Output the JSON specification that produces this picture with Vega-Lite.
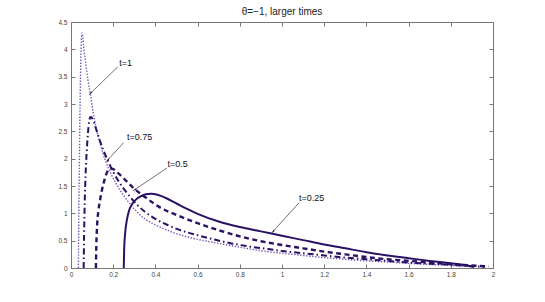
{
  "$schema": "https://vega.github.io/schema/vega-lite/v6.json",
  "width": 422,
  "height": 246,
  "autosize": {"type": "none"},
  "padding": {"left": 71, "top": 22, "right": 52, "bottom": 34},
  "background": "white",
  "title": {"text": "θ=−1, larger times", "fontSize": 10, "font": "Liberation Sans", "fontWeight": "normal", "color": "#222222", "offset": 6, "baseline": "alphabetic", "anchor": "middle", "frame": "group", "dy": 12},
  "config": {
    "view": {"stroke": "#777777", "strokeWidth": 1},
    "axis": {"domain": false, "grid": false, "tickColor": "#777777", "tickSize": -4, "labelFont": "Liberation Sans", "labelFontSize": 6.5, "labelColor": "#444444", "title": null, "labelFlush": false, "labelOverlap": false, "minExtent": 0, "maxExtent": 0}
  },
  "datasets": {
    "curves": [
      {"t": "t=0.25", "x": 0.25, "y": 0}, {"t": "t=0.25", "x": 0.252, "y": 0.35}, {"t": "t=0.25", "x": 0.257, "y": 0.65}, {"t": "t=0.25", "x": 0.265, "y": 0.88}, {"t": "t=0.25", "x": 0.276, "y": 1.06}, {"t": "t=0.25", "x": 0.29, "y": 1.17}, {"t": "t=0.25", "x": 0.31, "y": 1.26}, {"t": "t=0.25", "x": 0.33, "y": 1.31}, {"t": "t=0.25", "x": 0.355, "y": 1.35}, {"t": "t=0.25", "x": 0.38, "y": 1.36}, {"t": "t=0.25", "x": 0.41, "y": 1.34}, {"t": "t=0.25", "x": 0.45, "y": 1.28}, {"t": "t=0.25", "x": 0.5, "y": 1.18}, {"t": "t=0.25", "x": 0.55, "y": 1.08}, {"t": "t=0.25", "x": 0.6, "y": 0.99}, {"t": "t=0.25", "x": 0.7, "y": 0.85}, {"t": "t=0.25", "x": 0.8, "y": 0.75}, {"t": "t=0.25", "x": 0.9, "y": 0.67}, {"t": "t=0.25", "x": 1.0, "y": 0.59}, {"t": "t=0.25", "x": 1.1, "y": 0.51}, {"t": "t=0.25", "x": 1.2, "y": 0.43}, {"t": "t=0.25", "x": 1.3, "y": 0.36}, {"t": "t=0.25", "x": 1.4, "y": 0.29}, {"t": "t=0.25", "x": 1.5, "y": 0.23}, {"t": "t=0.25", "x": 1.6, "y": 0.18}, {"t": "t=0.25", "x": 1.7, "y": 0.13}, {"t": "t=0.25", "x": 1.8, "y": 0.085}, {"t": "t=0.25", "x": 1.87, "y": 0.05}, {"t": "t=0.25", "x": 1.91, "y": 0.02},
      {"t": "t=0.5", "x": 0.118, "y": 0}, {"t": "t=0.5", "x": 0.12, "y": 0.4}, {"t": "t=0.5", "x": 0.124, "y": 0.8}, {"t": "t=0.5", "x": 0.13, "y": 1.05}, {"t": "t=0.5", "x": 0.138, "y": 1.25}, {"t": "t=0.5", "x": 0.148, "y": 1.45}, {"t": "t=0.5", "x": 0.16, "y": 1.63}, {"t": "t=0.5", "x": 0.172, "y": 1.76}, {"t": "t=0.5", "x": 0.185, "y": 1.82}, {"t": "t=0.5", "x": 0.2, "y": 1.81}, {"t": "t=0.5", "x": 0.225, "y": 1.73}, {"t": "t=0.5", "x": 0.26, "y": 1.6}, {"t": "t=0.5", "x": 0.3, "y": 1.45}, {"t": "t=0.5", "x": 0.35, "y": 1.3}, {"t": "t=0.5", "x": 0.43, "y": 1.09}, {"t": "t=0.5", "x": 0.5, "y": 0.97}, {"t": "t=0.5", "x": 0.6, "y": 0.82}, {"t": "t=0.5", "x": 0.7, "y": 0.69}, {"t": "t=0.5", "x": 0.8, "y": 0.58}, {"t": "t=0.5", "x": 0.9, "y": 0.49}, {"t": "t=0.5", "x": 1.0, "y": 0.42}, {"t": "t=0.5", "x": 1.1, "y": 0.36}, {"t": "t=0.5", "x": 1.2, "y": 0.3}, {"t": "t=0.5", "x": 1.3, "y": 0.25}, {"t": "t=0.5", "x": 1.4, "y": 0.2}, {"t": "t=0.5", "x": 1.5, "y": 0.16}, {"t": "t=0.5", "x": 1.6, "y": 0.13}, {"t": "t=0.5", "x": 1.7, "y": 0.1}, {"t": "t=0.5", "x": 1.8, "y": 0.07}, {"t": "t=0.5", "x": 1.9, "y": 0.045}, {"t": "t=0.5", "x": 1.98, "y": 0.03},
      {"t": "t=0.75", "x": 0.06, "y": 0}, {"t": "t=0.75", "x": 0.062, "y": 0.6}, {"t": "t=0.75", "x": 0.065, "y": 1.2}, {"t": "t=0.75", "x": 0.069, "y": 1.7}, {"t": "t=0.75", "x": 0.074, "y": 2.1}, {"t": "t=0.75", "x": 0.08, "y": 2.45}, {"t": "t=0.75", "x": 0.086, "y": 2.68}, {"t": "t=0.75", "x": 0.092, "y": 2.76}, {"t": "t=0.75", "x": 0.1, "y": 2.74}, {"t": "t=0.75", "x": 0.11, "y": 2.65}, {"t": "t=0.75", "x": 0.12, "y": 2.53}, {"t": "t=0.75", "x": 0.135, "y": 2.35}, {"t": "t=0.75", "x": 0.155, "y": 2.14}, {"t": "t=0.75", "x": 0.175, "y": 1.96}, {"t": "t=0.75", "x": 0.2, "y": 1.76}, {"t": "t=0.75", "x": 0.23, "y": 1.56}, {"t": "t=0.75", "x": 0.27, "y": 1.35}, {"t": "t=0.75", "x": 0.31, "y": 1.17}, {"t": "t=0.75", "x": 0.35, "y": 1.03}, {"t": "t=0.75", "x": 0.4, "y": 0.9}, {"t": "t=0.75", "x": 0.45, "y": 0.8}, {"t": "t=0.75", "x": 0.52, "y": 0.69}, {"t": "t=0.75", "x": 0.6, "y": 0.6}, {"t": "t=0.75", "x": 0.68, "y": 0.52}, {"t": "t=0.75", "x": 0.76, "y": 0.45}, {"t": "t=0.75", "x": 0.85, "y": 0.39}, {"t": "t=0.75", "x": 0.93, "y": 0.35}, {"t": "t=0.75", "x": 1.0, "y": 0.31}, {"t": "t=0.75", "x": 1.1, "y": 0.27}, {"t": "t=0.75", "x": 1.2, "y": 0.23}, {"t": "t=0.75", "x": 1.3, "y": 0.19}, {"t": "t=0.75", "x": 1.4, "y": 0.16}, {"t": "t=0.75", "x": 1.5, "y": 0.13}, {"t": "t=0.75", "x": 1.6, "y": 0.1}, {"t": "t=0.75", "x": 1.7, "y": 0.08}, {"t": "t=0.75", "x": 1.8, "y": 0.06}, {"t": "t=0.75", "x": 1.9, "y": 0.035}, {"t": "t=0.75", "x": 1.96, "y": 0.02},
      {"t": "t=1", "x": 0.035, "y": 0}, {"t": "t=1", "x": 0.037, "y": 1}, {"t": "t=1", "x": 0.04, "y": 2}, {"t": "t=1", "x": 0.043, "y": 3}, {"t": "t=1", "x": 0.046, "y": 3.7}, {"t": "t=1", "x": 0.049, "y": 4.15}, {"t": "t=1", "x": 0.052, "y": 4.3}, {"t": "t=1", "x": 0.056, "y": 4.22}, {"t": "t=1", "x": 0.06, "y": 4.05}, {"t": "t=1", "x": 0.07, "y": 3.75}, {"t": "t=1", "x": 0.08, "y": 3.45}, {"t": "t=1", "x": 0.093, "y": 3.15}, {"t": "t=1", "x": 0.105, "y": 2.85}, {"t": "t=1", "x": 0.12, "y": 2.55}, {"t": "t=1", "x": 0.14, "y": 2.25}, {"t": "t=1", "x": 0.16, "y": 2.0}, {"t": "t=1", "x": 0.19, "y": 1.72}, {"t": "t=1", "x": 0.23, "y": 1.44}, {"t": "t=1", "x": 0.27, "y": 1.22}, {"t": "t=1", "x": 0.31, "y": 1.04}, {"t": "t=1", "x": 0.35, "y": 0.9}, {"t": "t=1", "x": 0.4, "y": 0.79}, {"t": "t=1", "x": 0.47, "y": 0.67}, {"t": "t=1", "x": 0.55, "y": 0.57}, {"t": "t=1", "x": 0.63, "y": 0.5}, {"t": "t=1", "x": 0.7, "y": 0.45}, {"t": "t=1", "x": 0.8, "y": 0.38}, {"t": "t=1", "x": 0.93, "y": 0.3}, {"t": "t=1", "x": 1.0, "y": 0.27}, {"t": "t=1", "x": 1.1, "y": 0.23}, {"t": "t=1", "x": 1.2, "y": 0.19}, {"t": "t=1", "x": 1.3, "y": 0.16}, {"t": "t=1", "x": 1.4, "y": 0.13}, {"t": "t=1", "x": 1.5, "y": 0.11}, {"t": "t=1", "x": 1.6, "y": 0.085}, {"t": "t=1", "x": 1.7, "y": 0.065}, {"t": "t=1", "x": 1.8, "y": 0.045}, {"t": "t=1", "x": 1.9, "y": 0.025}
    ],
    "notes": [
      {"label": "t=1", "tx": 0.229, "ty": 3.75, "ax": 0.222, "ay": 3.68, "bx": 0.0935, "by": 3.2},
      {"label": "t=0.75", "tx": 0.265, "ty": 2.39, "ax": 0.249, "ay": 2.29, "bx": 0.175, "by": 1.98},
      {"label": "t=0.5", "tx": 0.457, "ty": 1.9, "ax": 0.455, "ay": 1.83, "bx": 0.301, "by": 1.43},
      {"label": "t=0.25", "tx": 1.081, "ty": 1.28, "ax": 1.08, "ay": 1.19, "bx": 0.958, "by": 0.67}
    ]
  },
  "layer": [
    {
      "data": {"name": "curves"},
      "transform": [{"filter": "datum.t === 't=1'"}],
      "mark": {"type": "line", "interpolate": "monotone", "color": "#7458b4", "strokeWidth": 1.4, "strokeDash": [1.4, 1.6], "strokeCap": "butt"},
      "encoding": {
        "x": {"field": "x", "type": "quantitative", "scale": {"domain": [0, 2], "nice": false, "zero": false}, "axis": {"orient": "bottom", "values": [0, 0.2, 0.4, 0.6, 0.8, 1, 1.2, 1.4, 1.6, 1.8, 2], "format": "~g", "labelPadding": 7}},
        "y": {"field": "y", "type": "quantitative", "scale": {"domain": [0, 4.5], "nice": false}, "axis": {"orient": "left", "values": [0, 0.5, 1, 1.5, 2, 2.5, 3, 3.5, 4, 4.5], "format": "~g", "labelPadding": 8}}
      }
    },
    {
      "data": {"name": "curves"},
      "transform": [{"filter": "datum.t === 't=0.75'"}],
      "mark": {"type": "line", "interpolate": "monotone", "color": "#2b1166", "strokeWidth": 2, "strokeDash": [6, 3, 1.5, 3], "strokeCap": "butt"},
      "encoding": {
        "x": {"field": "x", "type": "quantitative", "scale": {"domain": [0, 2], "nice": false, "zero": false}, "axis": null},
        "y": {"field": "y", "type": "quantitative", "scale": {"domain": [0, 4.5], "nice": false}, "axis": null}
      }
    },
    {
      "data": {"name": "curves"},
      "transform": [{"filter": "datum.t === 't=0.5'"}],
      "mark": {"type": "line", "interpolate": "monotone", "color": "#2b1166", "strokeWidth": 2.4, "strokeDash": [5, 3.5], "strokeCap": "butt"},
      "encoding": {
        "x": {"field": "x", "type": "quantitative", "scale": {"domain": [0, 2], "nice": false, "zero": false}, "axis": null},
        "y": {"field": "y", "type": "quantitative", "scale": {"domain": [0, 4.5], "nice": false}, "axis": null}
      }
    },
    {
      "data": {"name": "curves"},
      "transform": [{"filter": "datum.t === 't=0.25'"}],
      "mark": {"type": "line", "interpolate": "monotone", "color": "#2b1166", "strokeWidth": 2},
      "encoding": {
        "x": {"field": "x", "type": "quantitative", "scale": {"domain": [0, 2], "nice": false, "zero": false}, "axis": null},
        "y": {"field": "y", "type": "quantitative", "scale": {"domain": [0, 4.5], "nice": false}, "axis": null}
      }
    },
    {
      "data": {"name": "notes"},
      "mark": {"type": "rule", "color": "#333333", "strokeWidth": 0.7},
      "encoding": {
        "x": {"field": "ax", "type": "quantitative", "scale": {"domain": [0, 2], "nice": false, "zero": false}, "axis": null},
        "y": {"field": "ay", "type": "quantitative", "scale": {"domain": [0, 4.5], "nice": false}, "axis": null},
        "x2": {"field": "bx"},
        "y2": {"field": "by"}
      }
    },
    {
      "data": {"name": "notes"},
      "transform": [{"calculate": "atan2((datum.bx - datum.ax) * 211.2, (datum.by - datum.ay) * 54.67) * 180 / PI", "as": "ang"}],
      "mark": {"type": "point", "shape": "wedge", "filled": true, "color": "#111111", "size": 30, "opacity": 1},
      "encoding": {
        "x": {"field": "bx", "type": "quantitative", "scale": {"domain": [0, 2], "nice": false, "zero": false}, "axis": null},
        "y": {"field": "by", "type": "quantitative", "scale": {"domain": [0, 4.5], "nice": false}, "axis": null},
        "angle": {"field": "ang", "type": "quantitative", "scale": null}
      }
    },
    {
      "data": {"name": "notes"},
      "mark": {"type": "text", "align": "left", "baseline": "middle", "font": "Liberation Sans", "fontSize": 9, "color": "#111111"},
      "encoding": {
        "x": {"field": "tx", "type": "quantitative", "scale": {"domain": [0, 2], "nice": false, "zero": false}, "axis": {"orient": "top", "values": [0, 0.2, 0.4, 0.6, 0.8, 1, 1.2, 1.4, 1.6, 1.8, 2], "labels": false}},
        "y": {"field": "ty", "type": "quantitative", "scale": {"domain": [0, 4.5], "nice": false}, "axis": {"orient": "right", "values": [0, 0.5, 1, 1.5, 2, 2.5, 3, 3.5, 4, 4.5], "labels": false}},
        "text": {"field": "label", "type": "nominal"}
      }
    }
  ],
  "resolve": {"axis": {"x": "independent", "y": "independent"}}
}
